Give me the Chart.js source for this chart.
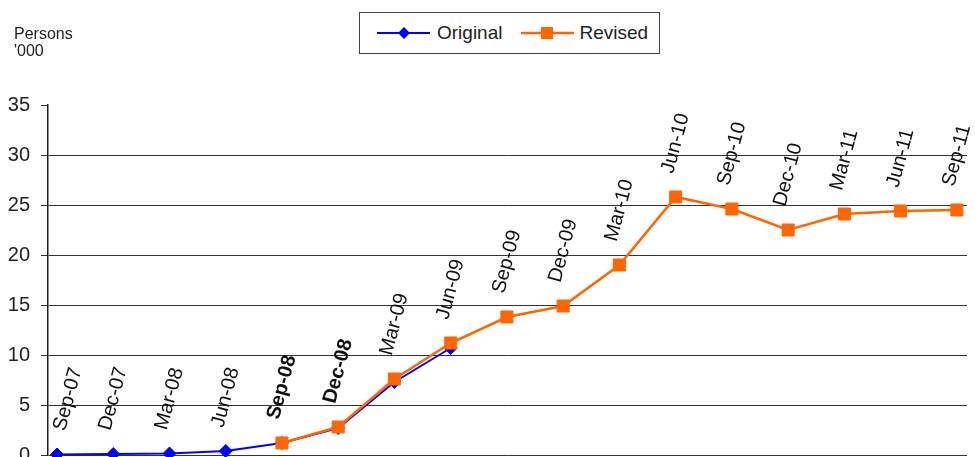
<!DOCTYPE html>
<html>
<head>
<meta charset="utf-8">
<title>Persons '000 - Original and Revised</title>
<script src="https://cdn.jsdelivr.net/npm/chart.js@4.4.1/dist/chart.umd.min.js"></script>
<style>
  body { margin: 0; background: #fff; font-family: 'Liberation Sans', Arial, sans-serif; }
  #wrap { position: relative; width: 975px; height: 457px; }
  #unit { position: absolute; left: 14px; top: 25px; font-size: 16px; line-height: 17px; color: #222; }
  #legend { position: absolute; left: 359px; top: 12px; width: 299px; height: 40px; border: 1px solid #444;
            display: flex; align-items: center; font-size: 19px; color: #222; background: #fff; }
  #legend .item { display: flex; align-items: center; }
  #legend svg { display: block; }
</style>
</head>
<body>
<div id="wrap">
  <canvas id="revisionChart" width="975" height="457"></canvas>
  <div id="unit">Persons<br>'000</div>
  <div id="legend"></div>
</div>
<script>
// quarterly series, original estimate vs revised estimate
const periods = ['Sep-07', 'Dec-07', 'Mar-08', 'Jun-08', 'Sep-08', 'Dec-08', 'Mar-09', 'Jun-09', 'Sep-09',
  'Dec-09', 'Mar-10', 'Jun-10', 'Sep-10', 'Dec-10', 'Mar-11', 'Jun-11', 'Sep-11'];
const boldPeriods = ['Sep-08', 'Dec-08'];
const originalValues = [0.05, 0.1, 0.15, 0.4, 1.2, 2.7, 7.3, 10.7, null, null, null, null, null, null, null, null, null];
const revisedValues = [null, null, null, null, 1.2, 2.8, 7.6, 11.2, 13.8, 14.9, 19.0, 25.8, 24.6, 22.5, 24.1, 24.4, 24.5];
const yTicks = [0, 5, 10, 15, 20, 25, 30, 35];

const FONT = "'Liberation Sans', Arial, sans-serif";
const toPoints = (values) => values.map((v, i) => ({ x: i, y: v }));

// rotated period labels sitting above the highest point of each quarter
const periodLabels = {
  id: 'periodLabels',
  afterDatasetsDraw(chart) {
    const { ctx, chartArea, scales } = chart;
    const rad = 75 * Math.PI / 180;
    ctx.save();
    ctx.fillStyle = '#111';
    ctx.textAlign = 'center';
    ctx.textBaseline = 'middle';
    periods.forEach((label, i) => {
      const vals = [originalValues[i], revisedValues[i]].filter((v) => v !== null);
      if (!vals.length) return;
      const px = scales.x.getPixelForValue(i);
      const py = scales.y.getPixelForValue(Math.max(...vals));
      ctx.font = (boldPeriods.includes(label) ? 'bold ' : '') + '20px ' + FONT;
      const len = ctx.measureText(label).width;
      const h = 16;
      const w = len * Math.cos(rad) + h * Math.sin(rad);
      const hh = len * Math.sin(rad) + h * Math.cos(rad);
      let cx = Math.max(px, chartArea.left + 4 + w / 2);
      cx = Math.min(cx, chart.width - 2 - w / 2);
      const cy = py - 22 - hh / 2;
      ctx.save();
      ctx.translate(cx, cy);
      ctx.rotate(-rad);
      ctx.fillText(label, 0, 0);
      ctx.restore();
    });
    ctx.restore();
  }
};

const chart = new Chart(document.getElementById('revisionChart'), {
  type: 'line',
  data: {
    datasets: [
      {
        label: 'Original',
        data: toPoints(originalValues),
        borderColor: '#0000ff',
        backgroundColor: '#0000ff',
        borderWidth: 2,
        pointStyle: 'rectRot',
        pointRadius: 6.5,
        pointBorderWidth: 1,
        order: 1
      },
      {
        label: 'Revised',
        data: toPoints(revisedValues),
        borderColor: '#ff6600',
        backgroundColor: '#ff6600',
        borderWidth: 2.5,
        pointStyle: 'rect',
        pointRadius: 8.5,
        pointBorderWidth: 1,
        order: 0
      }
    ]
  },
  options: {
    responsive: false,
    animation: false,
    clip: false,
    tension: 0,
    layout: { autoPadding: false, padding: { top: 105, right: 8, bottom: 2, left: 0 } },
    plugins: { legend: { display: false }, tooltip: { enabled: false } },
    scales: {
      x: { type: 'linear', display: false, min: -0.16, max: periods.length - 1 + 0.18 },
      y: {
        min: 0,
        max: 35,
        afterBuildTicks: (scale) => { scale.ticks = yTicks.map((v) => ({ value: v })); },
        afterFit: (scale) => { scale.width = 48; scale.paddingTop = 0; scale.paddingBottom = 0; },
        border: { display: true, color: '#222', width: 1.5 },
        grid: {
          color: (c) => (c.tick && c.tick.value === 35 ? 'rgba(0,0,0,0)' : '#333'),
          tickColor: '#333',
          tickLength: 7,
          lineWidth: 1
        },
        ticks: { color: '#222', padding: 11, font: { family: FONT, size: 20 } }
      }
    }
  },
  plugins: [periodLabels]
});

// legend box: line with marker, then the series name
function renderLegend(datasets) {
  const el = document.getElementById('legend');
  el.innerHTML = datasets.map((ds, i) => {
    const c = ds.borderColor;
    const marker = ds.pointStyle === 'rect'
      ? `<rect x="20" y="2" width="12" height="12" fill="${c}"/>`
      : `<polygon points="27,2 33,8 27,14 21,8" fill="${c}"/>`;
    return `<span class="item" style="margin-left:${i === 0 ? 17 : 19}px">
      <svg width="53" height="16"><line x1="0" y1="8" x2="53" y2="8" stroke="${c}" stroke-width="${ds.borderWidth}"/>${marker}</svg>
      <span style="margin-left:${i === 0 ? 7 : 5}px">${ds.label}</span></span>`;
  }).join('');
}
renderLegend(chart.data.datasets);
</script>
</body>
</html>
